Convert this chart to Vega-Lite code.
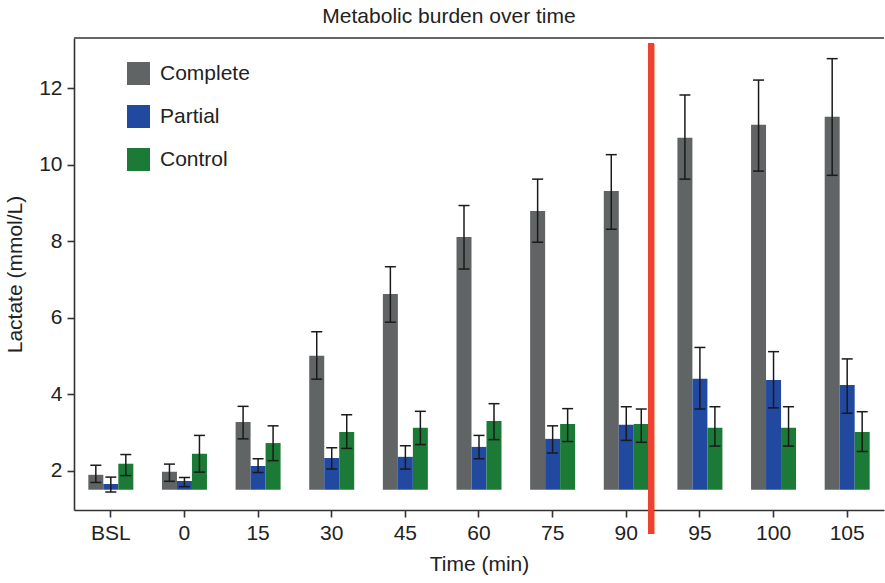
{
  "$schema": "https://vega.github.io/schema/vega-lite/v6.json",
  "autosize": {"type": "none"},
  "width": 810,
  "height": 472,
  "padding": {"left": 74, "top": 38, "right": 1, "bottom": 73},
  "background": "white",
  "config": {
    "font": "Liberation Sans",
    "view": {"stroke": null},
    "axis": {"labelFont": "Liberation Sans", "titleFont": "Liberation Sans", "labelColor": "#222222", "titleColor": "#222222", "titleFontWeight": "normal", "labelFontSize": 21, "titleFontSize": 21, "domainColor": "#333333", "domainWidth": 1.6, "tickColor": "#333333", "tickWidth": 1.6, "tickSize": 7, "grid": false}
  },
  "title": {"text": "Metabolic burden over time", "fontSize": 21, "fontWeight": "normal", "color": "#222222", "font": "Liberation Sans", "anchor": "middle", "frame": "group", "offset": 10, "dx": -30},
  "data": {"values": [
    {"t": "BSL", "g": "Complete", "v": 1.89, "lo": 1.69, "hi": 2.14},
    {"t": "BSL", "g": "Partial", "v": 1.65, "lo": 1.44, "hi": 1.83},
    {"t": "BSL", "g": "Control", "v": 2.18, "lo": 1.87, "hi": 2.42},
    {"t": "0", "g": "Complete", "v": 1.97, "lo": 1.72, "hi": 2.17},
    {"t": "0", "g": "Partial", "v": 1.73, "lo": 1.58, "hi": 1.82},
    {"t": "0", "g": "Control", "v": 2.44, "lo": 1.96, "hi": 2.92},
    {"t": "15", "g": "Complete", "v": 3.27, "lo": 2.83, "hi": 3.68},
    {"t": "15", "g": "Partial", "v": 2.12, "lo": 1.95, "hi": 2.31},
    {"t": "15", "g": "Control", "v": 2.72, "lo": 2.26, "hi": 3.17},
    {"t": "30", "g": "Complete", "v": 5.0, "lo": 4.39, "hi": 5.63},
    {"t": "30", "g": "Partial", "v": 2.33, "lo": 2.04, "hi": 2.6},
    {"t": "30", "g": "Control", "v": 3.01, "lo": 2.58, "hi": 3.46},
    {"t": "45", "g": "Complete", "v": 6.62, "lo": 5.88, "hi": 7.33},
    {"t": "45", "g": "Partial", "v": 2.36, "lo": 2.04, "hi": 2.65},
    {"t": "45", "g": "Control", "v": 3.12, "lo": 2.68, "hi": 3.55},
    {"t": "60", "g": "Complete", "v": 8.11, "lo": 7.27, "hi": 8.93},
    {"t": "60", "g": "Partial", "v": 2.62, "lo": 2.31, "hi": 2.92},
    {"t": "60", "g": "Control", "v": 3.3, "lo": 2.81, "hi": 3.75},
    {"t": "75", "g": "Complete", "v": 8.79, "lo": 7.97, "hi": 9.62},
    {"t": "75", "g": "Partial", "v": 2.83, "lo": 2.46, "hi": 3.17},
    {"t": "75", "g": "Control", "v": 3.22, "lo": 2.76, "hi": 3.62},
    {"t": "90", "g": "Complete", "v": 9.31, "lo": 8.31, "hi": 10.26},
    {"t": "90", "g": "Partial", "v": 3.2, "lo": 2.79, "hi": 3.67},
    {"t": "90", "g": "Control", "v": 3.22, "lo": 2.74, "hi": 3.61},
    {"t": "95", "g": "Complete", "v": 10.7, "lo": 9.62, "hi": 11.82},
    {"t": "95", "g": "Partial", "v": 4.4, "lo": 3.61, "hi": 5.22},
    {"t": "95", "g": "Control", "v": 3.12, "lo": 2.64, "hi": 3.67},
    {"t": "100", "g": "Complete", "v": 11.04, "lo": 9.83, "hi": 12.21},
    {"t": "100", "g": "Partial", "v": 4.37, "lo": 3.64, "hi": 5.11},
    {"t": "100", "g": "Control", "v": 3.12, "lo": 2.64, "hi": 3.67},
    {"t": "105", "g": "Complete", "v": 11.25, "lo": 9.72, "hi": 12.77},
    {"t": "105", "g": "Partial", "v": 4.24, "lo": 3.5, "hi": 4.92},
    {"t": "105", "g": "Control", "v": 3.01, "lo": 2.5, "hi": 3.54}
  ]},
  "encoding": {
    "x": {"field": "t", "type": "ordinal", "sort": ["BSL", "0", "15", "30", "45", "60", "75", "90", "95", "100", "105"],
      "scale": {"paddingInner": 0.389, "paddingOuter": 0.1945},
      "axis": {"title": "Time (min)", "labelAngle": 0, "labelPadding": 5, "titlePadding": 10}},
    "xOffset": {"field": "g", "type": "nominal", "sort": ["Complete", "Partial", "Control"], "scale": {"paddingInner": 0, "paddingOuter": 0}}
  },
  "layer": [
    {
      "mark": {"type": "rule", "color": "#666666", "strokeWidth": 2},
      "encoding": {"x": null, "xOffset": null, "y": {"datum": 13.31, "type": "quantitative"}}
    },
    {
      "mark": {"type": "bar"},
      "encoding": {
        "y": {"field": "v", "type": "quantitative", "scale": {"domain": [0.97, 13.31], "nice": false, "zero": false},
          "axis": {"title": "Lactate (mmol/L)", "values": [2, 4, 6, 8, 10, 12], "labelPadding": 5, "titlePadding": 13}},
        "y2": {"datum": 1.5},
        "color": {"field": "g", "type": "nominal", "sort": ["Complete", "Partial", "Control"],
          "scale": {"domain": ["Complete", "Partial", "Control"], "range": ["#606464", "#2249A0", "#1A7A36"]},
          "legend": {"title": null, "orient": "none", "legendX": 53, "legendY": 24, "symbolType": "square", "symbolSize": 529, "symbolStrokeWidth": 0, "symbolOpacity": 1, "labelFontSize": 21, "labelColor": "#222222", "labelFont": "Liberation Sans", "rowPadding": 20, "labelOffset": 10}}
      }
    },
    {
      "mark": {"type": "rule", "color": "#1a1a1a", "strokeWidth": 1.5},
      "encoding": {"y": {"field": "lo", "type": "quantitative"}, "y2": {"field": "hi"}}
    },
    {
      "mark": {"type": "tick", "color": "#1a1a1a", "thickness": 1.5, "size": 11, "opacity": 1},
      "encoding": {"y": {"field": "lo", "type": "quantitative"}}
    },
    {
      "mark": {"type": "tick", "color": "#1a1a1a", "thickness": 1.5, "size": 11, "opacity": 1},
      "encoding": {"y": {"field": "hi", "type": "quantitative"}}
    },
    {
      "mark": {"type": "rule", "color": "#EE4130", "strokeWidth": 6},
      "encoding": {"x": {"datum": "90", "bandPosition": 1.05}, "xOffset": null, "y": {"datum": 13.16, "type": "quantitative"}, "y2": {"datum": 0.345}}
    }
  ]
}
